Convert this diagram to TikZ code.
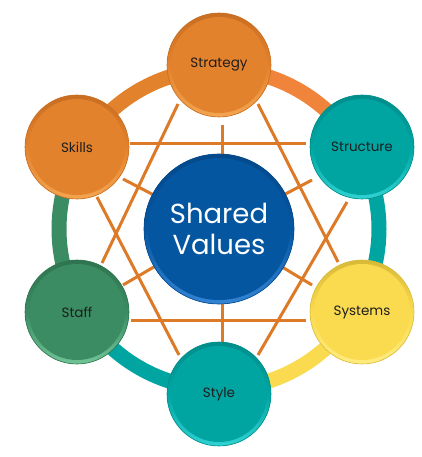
\documentclass[tikz,border=0pt]{standalone}
\usepackage{fontspec}
\setmainfont{Poppins}
\definecolor{orgA}{HTML}{E3822D}
\definecolor{orgAd}{HTML}{C86E22}
\definecolor{orgAl}{HTML}{F3A550}
\definecolor{orgRing}{HTML}{F0843A}
\definecolor{tealA}{HTML}{00A5A2}
\definecolor{tealAd}{HTML}{008E8B}
\definecolor{tealAl}{HTML}{30D2D2}
\definecolor{yelA}{HTML}{FADB4F}
\definecolor{yelAd}{HTML}{D8BA38}
\definecolor{yelAl}{HTML}{FFEC80}
\definecolor{grnA}{HTML}{3B8C62}
\definecolor{grnAd}{HTML}{2F7450}
\definecolor{grnAl}{HTML}{70C496}
\definecolor{bluA}{HTML}{0556A1}
\definecolor{bluAd}{HTML}{04498A}
\definecolor{bluAl}{HTML}{3484D4}
\definecolor{lineOrg}{HTML}{DD7A28}
\definecolor{txtDark}{HTML}{1E1E1E}
\tikzset{
  bevdisc/.style n args={4}{circle, minimum size=#4, inner sep=0pt,
    draw=#3, line width=0.6pt, fill=#1,
    path picture={
      \shade[top color=#3, bottom color=#2, middle color=#1]
        (path picture bounding box.center) circle (0.5*#4);
      \fill[#1] (path picture bounding box.center) circle (0.5*#4-4pt);
    }},
  lab/.style={text=txtDark, font=\fontsize{13.5}{16}\selectfont},
  hexline/.style={draw=lineOrg, line width=3pt},
  ringseg/.style={line width=15pt},
}
\begin{document}
\begin{tikzpicture}[x=1pt,y=-1pt]
\useasboundingbox (0,0) rectangle (421,457);
\coordinate (C) at (219,229);
% outer ring segments (user angles are page angles negated)
\draw[ringseg, orgA]    (C) ++(-150:160) arc[start angle=-150, end angle=-90, radius=160];
\draw[ringseg, orgRing] (C) ++(-90:160)  arc[start angle=-90,  end angle=-30, radius=160];
\draw[ringseg, tealA]   (C) ++(-30:160)  arc[start angle=-30,  end angle=30,  radius=160];
\draw[ringseg, yelA]    (C) ++(30:160)   arc[start angle=30,   end angle=90,  radius=160];
\draw[ringseg, tealA]   (C) ++(90:160)   arc[start angle=90,   end angle=150, radius=160];
\draw[ringseg, grnA]    (C) ++(150:160)  arc[start angle=150,  end angle=210, radius=160];
% hexagram line end points
\coordinate (h1a) at (178,104); \coordinate (h1b) at (102,263);
\coordinate (h2a) at (258,104); \coordinate (h2b) at (338,262);
\coordinate (h3a) at (130,144); \coordinate (h3b) at (306,144);
\coordinate (h4a) at (131,320); \coordinate (h4b) at (306,320);
\coordinate (h5a) at (97,197);  \coordinate (h5b) at (179,355);
\coordinate (h6a) at (347,202); \coordinate (h6b) at (258,355);
\draw[hexline] (h1a) -- (h1b);
\draw[hexline] (h2a) -- (h2b);
\draw[hexline] (h3a) -- (h3b);
\draw[hexline] (h4a) -- (h4b);
\draw[hexline] (h5a) -- (h5b);
\draw[hexline] (h6a) -- (h6b);
% spokes
\coordinate (s1) at (222,125);
\coordinate (s2) at (222,342);
\coordinate (s3) at (123,179);
\coordinate (s4) at (312,180);
\coordinate (s5) at (123,285);
\coordinate (s6) at (312,285);
\draw[hexline] (s1) -- (222,229);
\draw[hexline] (s2) -- (222,229);
\draw[hexline] (s3) -- (C);
\draw[hexline] (s4) -- (C);
\draw[hexline] (s5) -- (C);
\draw[hexline] (s6) -- (C);
% discs
\node[bevdisc={orgA}{orgAl}{orgAd}{104pt}, lab] (strategy) at (219,65) {Strategy};
\node[bevdisc={tealA}{tealAl}{tealAd}{104pt}, lab] (structure) at (362,147) {Structure};
\node[bevdisc={yelA}{yelAl}{yelAd}{104pt}, lab] (systems) at (362,312) {Systems};
\node[bevdisc={tealA}{tealAl}{tealAd}{104pt}, lab] (style) at (219,394) {Style};
\node[bevdisc={grnA}{grnAl}{grnAd}{104pt}, lab] (staff) at (77,312) {Staff};
\node[bevdisc={orgA}{orgAl}{orgAd}{104pt}, lab] (skills) at (77,147) {Skills};
\node[bevdisc={bluA}{bluAl}{bluAd}{150pt}, text=white, align=center,
      font=\fontsize{27.5}{31}\selectfont] (shared) at (219,229) {Shared\\Values};
\end{tikzpicture}
\end{document}
